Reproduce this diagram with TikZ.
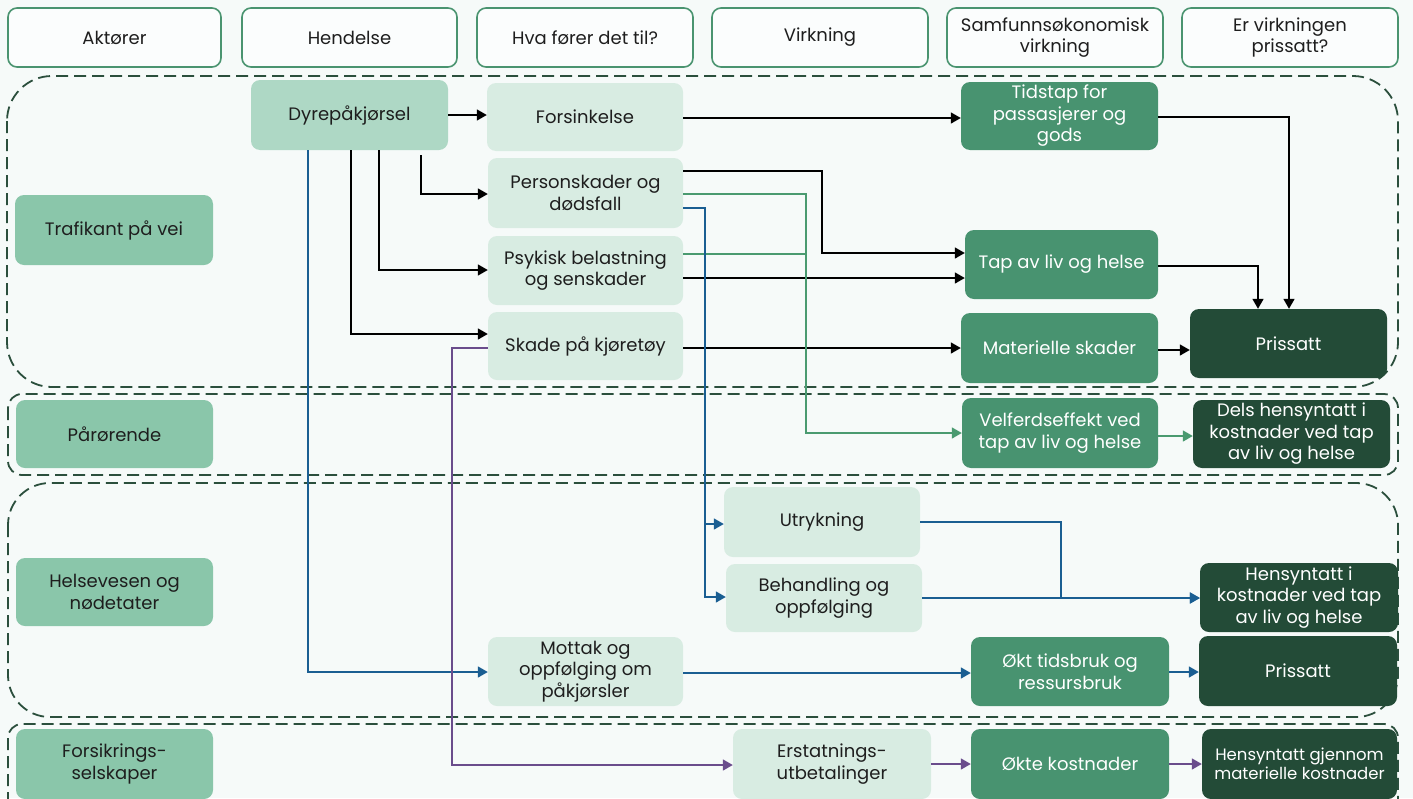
\documentclass[tikz,border=0pt]{standalone}
\usepackage{fontspec}
\setmainfont{Poppins}
\usetikzlibrary{arrows.meta}
\definecolor{bg}{HTML}{F6FAF9}
\definecolor{hdr}{HTML}{4A9470}
\definecolor{act}{HTML}{8AC6AA}
\definecolor{dyrc}{HTML}{AED8C5}
\definecolor{lite}{HTML}{D8ECE2}
\definecolor{mid}{HTML}{489370}
\definecolor{dark}{HTML}{234B37}
\definecolor{grp}{HTML}{2B4F3D}
\definecolor{blu}{HTML}{1A5E92}
\definecolor{grn}{HTML}{4A9A70}
\definecolor{pur}{HTML}{6A4C8C}
\definecolor{txt}{HTML}{1E1E1E}
\newcommand\bx[7]{\node[#6, minimum width={(#4-#2)*1pt}, minimum height={(#5-#3)*1pt}] (#1) at ({(#2+#4)/2},{(#3+#5)/2}) {#7};}
\tikzset{
  bbase/.style={rounded corners=9pt, inner sep=1pt, align=center, font=\fontsize{18}{21.5}\selectfont, text=txt},
  hd/.style={bbase, fill=bg!40!white, draw=hdr, line width=1.6pt},
  ac/.style={bbase, fill=act},
  dy/.style={bbase, fill=dyrc},
  lt/.style={bbase, fill=lite},
  md/.style={bbase, fill=mid, text=white},
  dk/.style={bbase, fill=dark, text=white},
  grpbox/.style={draw=grp, line width=1.8pt, dash pattern=on 12pt off 6pt},
  con/.style={line width=1.6pt, -{Triangle[length=10pt,width=11pt]}},
  blk/.style={con, draw=black},
  grnc/.style={con, draw=grn},
  grnl/.style={line width=1.6pt, draw=grn},
  bluc/.style={con, draw=blu},
  purc/.style={con, draw=pur},
}
\begin{document}
\begin{tikzpicture}[x=1pt,y=-1pt]
\useasboundingbox (0,0) rectangle (1413,798);
\fill[bg] (0,0) rectangle (1413,798);
% groups
\draw[grpbox, rounded corners=45pt] (7,76) rectangle (1398,387);
\draw[grpbox, rounded corners=14pt] (8,394) rectangle (1398,475);
\draw[grpbox, rounded corners=42pt] (8,483) rectangle (1398,717);
\draw[grpbox, rounded corners=14pt] (8,724) rectangle (1398,840);
% headers
\bx{h1}{8}{8}{221}{67}{hd}{Aktører}
\bx{h2}{242}{8}{457}{67}{hd}{Hendelse}
\bx{h3}{477}{8}{693}{67}{hd}{Hva fører det til?}
\bx{h4}{712}{8}{928}{67}{hd}{Virkning}
\bx{h5}{947}{8}{1163}{67}{hd}{Samfunnsøkonomisk\\virkning}
\bx{h6}{1182}{8}{1398}{67}{hd}{Er virkningen\\prissatt?}
% actors
\bx{a1}{15}{195}{213}{265}{ac}{Trafikant på vei}
\bx{a2}{16}{400}{213}{468}{ac}{Pårørende}
\bx{a3}{16}{558}{213}{626}{ac}{Helsevesen og\\nødetater}
\bx{a4}{16}{729}{213}{799}{ac}{Forsikrings-\\selskaper}
% event
\bx{dyr}{251}{80}{448}{150}{dy}{Dyrepåkjørsel}
% column 3
\bx{fors}{487}{83}{683}{151}{lt}{Forsinkelse}
\bx{pers}{488}{158}{683}{228}{lt}{Personskader og\\dødsfall}
\bx{psyk}{488}{236}{683}{305}{lt}{Psykisk belastning\\og senskader}
\bx{skad}{488}{312}{683}{380}{lt}{Skade på kjøretøy}
\bx{mott}{488}{637}{683}{706}{lt}{Mottak og\\oppfølging om\\påkjørsler}
% column 4
\bx{utr}{724}{487}{920}{557}{lt}{Utrykning}
\bx{beh}{726}{564}{922}{632}{lt}{Behandling og\\oppfølging}
\bx{ers}{733}{729}{931}{799}{lt}{Erstatnings-\\utbetalinger}
% column 5
\bx{tid}{961}{82}{1158}{150}{md}{Tidstap for\\passasjerer og\\gods}
\bx{tap}{965}{230}{1158}{299}{md}{Tap av liv og helse}
\bx{mat}{961}{313}{1158}{383}{md}{Materielle skader}
\bx{vel}{962}{398}{1158}{468}{md}{Velferdseffekt ved\\tap av liv og helse}
\bx{okt}{971}{637}{1169}{706}{md}{Økt tidsbruk og\\ressursbruk}
\bx{okk}{971}{729}{1169}{799}{md}{Økte kostnader}
% column 6
\bx{pr1}{1190}{309}{1387}{378}{dk}{Prissatt}
\bx{dels}{1193}{400}{1390}{468}{dk}{Dels hensyntatt i\\kostnader ved tap\\av liv og helse}
\bx{hen}{1200}{563}{1398}{632}{dk}{Hensyntatt i\\kostnader ved tap\\av liv og helse}
\bx{pr2}{1199}{636}{1397}{706}{dk}{Prissatt}
\bx{heng}{1202}{729}{1397}{799}{dk,font=\fontsize{16.5}{19.5}\selectfont}{Hensyntatt gjennom\\materielle kostnader}
% connectors black
\coordinate (dk1) at (421,155);
\draw[blk] (dyr.east |- 0,115) -- (fors.west |- 0,115);
\draw[blk] (dk1) |- (pers.west |- 0,194);
\draw[blk] (dyr.south -| 379,0) |- (psyk.west |- 0,270);
\draw[blk] (dyr.south -| 351,0) |- (skad.west |- 0,334);
\draw[blk] (fors.east |- 0,118) -- (tid.west |- 0,118);
\draw[blk] (pers.east |- 0,171) -| (822,253) -- (tap.west |- 0,253);
\draw[blk] (psyk.east |- 0,278) -- (tap.west |- 0,278);
\draw[blk] (skad.east |- 0,348) -- (mat.west |- 0,348);
\draw[blk] (tid.east |- 0,117) -| (pr1.north -| 1289,0);
\draw[blk] (tap.east |- 0,266) -| (pr1.north -| 1258,0);
\draw[blk] (mat.east |- 0,350) -- (pr1.west |- 0,350);
% green
\draw[grnc] (pers.east |- 0,194) -| (806,433) -- (vel.west |- 0,433);
\draw[grnl] (psyk.east |- 0,254) -- (806,254);
\draw[grnc] (vel.east |- 0,436) -- (dels.west |- 0,436);
% blue
\draw[bluc] (dyr.south -| 308,0) |- (mott.west |- 0,672);
\draw[bluc] (pers.east |- 0,208) -| (705,524) -- (utr.west |- 0,524);
\draw[bluc] (705,524) |- (beh.west |- 0,597);
\draw[bluc] (utr.east |- 0,522) -| (1061,598) -- (hen.west |- 0,598);
\draw[bluc] (beh.east |- 0,598) -- (hen.west |- 0,598);
\draw[bluc] (mott.east |- 0,673) -- (okt.west |- 0,673);
\draw[bluc] (okt.east |- 0,672) -- (pr2.west |- 0,672);
% purple
\draw[purc] (skad.west |- 0,348) -| (452,765) -- (ers.west |- 0,765);
\draw[purc] (ers.east |- 0,764) -- (okk.west |- 0,764);
\draw[purc] (okk.east |- 0,764) -- (heng.west |- 0,764);
\end{tikzpicture}
\end{document}
